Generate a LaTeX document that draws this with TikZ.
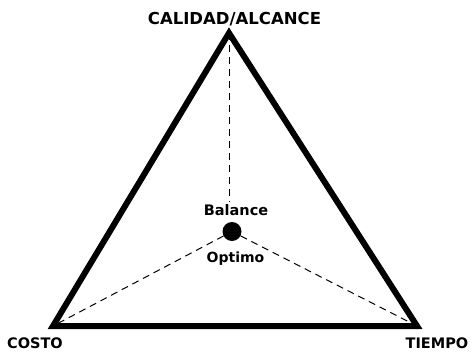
\documentclass[tikz,border=0pt]{standalone}
\usepackage{fontspec}
\setmainfont{DejaVu Sans}
\begin{document}
\begin{tikzpicture}[x=1pt,y=-1pt,
  lbl/.style={font=\bfseries, inner sep=0pt, anchor=base},
  edge/.style={line width=6pt, line join=miter},
  dashline/.style={line width=1pt, dash pattern=on 7pt off 5pt}]
\useasboundingbox (0,0) rectangle (472,354);
\coordinate (A) at (229,33);
\coordinate (B) at (53,326);
\coordinate (C) at (417,326);
\draw[edge] (A) -- (B) -- (C) -- cycle;
\node[circle, fill=black, minimum size=19pt, inner sep=0pt] (dot) at (232,231.5) {};
\node[lbl, font=\bfseries\fontsize{14.5}{16}\selectfont] (bal) at (236,215) {Balance};
\node[lbl, font=\bfseries\fontsize{14}{16}\selectfont] (opt) at (235.5,262) {Optimo};
\node[lbl, font=\bfseries\fontsize{16.5}{18}\selectfont] (top) at (234.5,24) {CALIDAD/ALCANCE};
\node[lbl, font=\bfseries\fontsize{14.5}{16}\selectfont] (costo) at (35,348) {COSTO};
\node[lbl, font=\bfseries\fontsize{14.5}{16}\selectfont] (tiempo) at (437,348) {TIEMPO};
\coordinate (mid) at (229,202);
\draw[dashline] (A) -- (mid);
\draw[dashline] (dot) -- (B);
\draw[dashline] (dot) -- (C);
\end{tikzpicture}
\end{document}
